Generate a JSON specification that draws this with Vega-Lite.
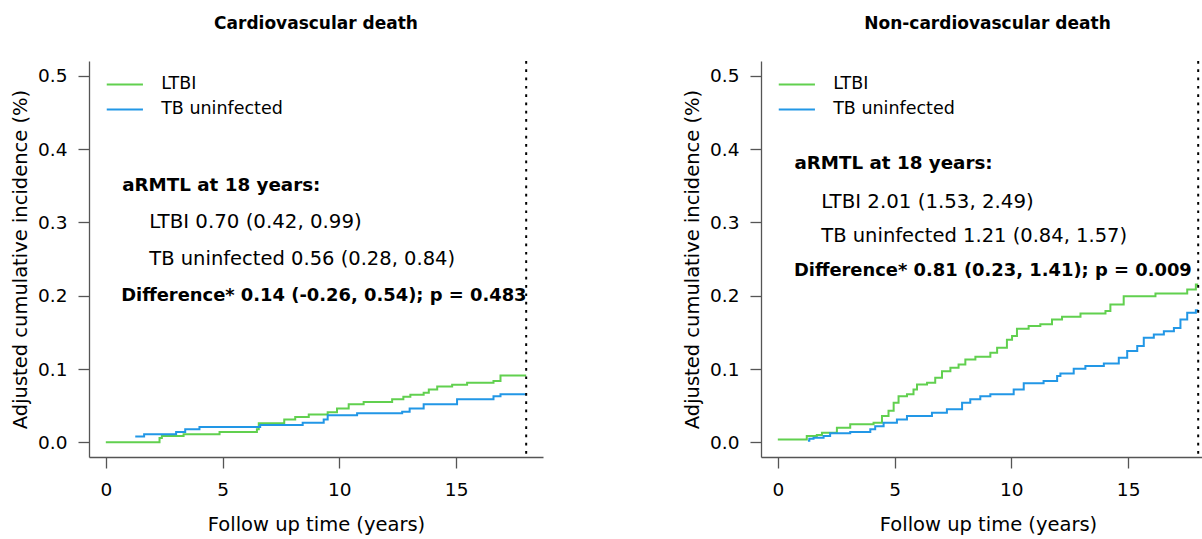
{
  "$schema": "https://vega.github.io/schema/vega-lite/v6.json",
  "autosize": {"type": "pad"},
  "padding": {"left": 10, "top": 15, "right": 0, "bottom": 3},
  "background": "white",
  "spacing": 218,
  "bounds": "flush",
  "config": {
    "font": "DejaVu Sans",
    "view": {"stroke": null},
    "axis": {
      "domainColor": "#555555", "tickColor": "#555555", "domainWidth": 1.3, "tickWidth": 1.3,
      "labelColor": "black", "titleColor": "black",
      "labelFont": "DejaVu Sans", "titleFont": "DejaVu Sans",
      "labelFontSize": 18.5, "titleFontSize": 19.5, "titleFontWeight": "normal",
      "tickSize": 11, "grid": false
    },
    "title": {"font": "DejaVu Sans", "fontSize": 17, "fontWeight": "bold", "anchor": "middle", "baseline": "alphabetic", "offset": 27, "color": "black"}
  },
  "datasets": {
    "cv": [
      {"time": 0, "inc": 0.0, "group": "LTBI"},
      {"time": 2.30, "inc": 0.006, "group": "LTBI"},
      {"time": 2.40, "inc": 0.0086, "group": "LTBI"},
      {"time": 3.33, "inc": 0.011, "group": "LTBI"},
      {"time": 4.87, "inc": 0.014, "group": "LTBI"},
      {"time": 6.47, "inc": 0.018, "group": "LTBI"},
      {"time": 6.55, "inc": 0.026, "group": "LTBI"},
      {"time": 7.64, "inc": 0.031, "group": "LTBI"},
      {"time": 8.11, "inc": 0.0345, "group": "LTBI"},
      {"time": 8.69, "inc": 0.038, "group": "LTBI"},
      {"time": 9.50, "inc": 0.041, "group": "LTBI"},
      {"time": 9.90, "inc": 0.046, "group": "LTBI"},
      {"time": 10.40, "inc": 0.052, "group": "LTBI"},
      {"time": 11.04, "inc": 0.055, "group": "LTBI"},
      {"time": 12.26, "inc": 0.0586, "group": "LTBI"},
      {"time": 12.74, "inc": 0.062, "group": "LTBI"},
      {"time": 13.04, "inc": 0.065, "group": "LTBI"},
      {"time": 13.61, "inc": 0.0677, "group": "LTBI"},
      {"time": 13.83, "inc": 0.072, "group": "LTBI"},
      {"time": 14.19, "inc": 0.076, "group": "LTBI"},
      {"time": 14.83, "inc": 0.0786, "group": "LTBI"},
      {"time": 15.47, "inc": 0.0813, "group": "LTBI"},
      {"time": 16.60, "inc": 0.0835, "group": "LTBI"},
      {"time": 16.90, "inc": 0.091, "group": "LTBI"},
      {"time": 18.0, "inc": 0.091, "group": "LTBI"},
      {"time": 1.26, "inc": 0.0078, "group": "TB uninfected"},
      {"time": 1.64, "inc": 0.011, "group": "TB uninfected"},
      {"time": 3.01, "inc": 0.014, "group": "TB uninfected"},
      {"time": 3.40, "inc": 0.0177, "group": "TB uninfected"},
      {"time": 4.01, "inc": 0.021, "group": "TB uninfected"},
      {"time": 6.61, "inc": 0.0236, "group": "TB uninfected"},
      {"time": 8.43, "inc": 0.0268, "group": "TB uninfected"},
      {"time": 9.33, "inc": 0.031, "group": "TB uninfected"},
      {"time": 9.50, "inc": 0.037, "group": "TB uninfected"},
      {"time": 10.76, "inc": 0.0395, "group": "TB uninfected"},
      {"time": 12.69, "inc": 0.0418, "group": "TB uninfected"},
      {"time": 13.01, "inc": 0.046, "group": "TB uninfected"},
      {"time": 13.61, "inc": 0.0518, "group": "TB uninfected"},
      {"time": 15.04, "inc": 0.0586, "group": "TB uninfected"},
      {"time": 16.60, "inc": 0.063, "group": "TB uninfected"},
      {"time": 16.90, "inc": 0.0654, "group": "TB uninfected"},
      {"time": 18.0, "inc": 0.0654, "group": "TB uninfected"}
    ],
    "ncv": [
      {"time": 0, "inc": 0.004, "group": "LTBI"},
      {"time": 1.24, "inc": 0.0086, "group": "LTBI"},
      {"time": 1.67, "inc": 0.010, "group": "LTBI"},
      {"time": 1.89, "inc": 0.0132, "group": "LTBI"},
      {"time": 2.53, "inc": 0.020, "group": "LTBI"},
      {"time": 3.10, "inc": 0.0245, "group": "LTBI"},
      {"time": 4.10, "inc": 0.0268, "group": "LTBI"},
      {"time": 4.46, "inc": 0.036, "group": "LTBI"},
      {"time": 4.74, "inc": 0.043, "group": "LTBI"},
      {"time": 4.96, "inc": 0.054, "group": "LTBI"},
      {"time": 5.17, "inc": 0.063, "group": "LTBI"},
      {"time": 5.53, "inc": 0.0654, "group": "LTBI"},
      {"time": 5.81, "inc": 0.072, "group": "LTBI"},
      {"time": 5.96, "inc": 0.079, "group": "LTBI"},
      {"time": 6.39, "inc": 0.0813, "group": "LTBI"},
      {"time": 6.74, "inc": 0.088, "group": "LTBI"},
      {"time": 7.03, "inc": 0.097, "group": "LTBI"},
      {"time": 7.39, "inc": 0.1017, "group": "LTBI"},
      {"time": 7.74, "inc": 0.106, "group": "LTBI"},
      {"time": 8.03, "inc": 0.113, "group": "LTBI"},
      {"time": 8.46, "inc": 0.1167, "group": "LTBI"},
      {"time": 9.10, "inc": 0.122, "group": "LTBI"},
      {"time": 9.39, "inc": 0.129, "group": "LTBI"},
      {"time": 9.81, "inc": 0.140, "group": "LTBI"},
      {"time": 10.03, "inc": 0.145, "group": "LTBI"},
      {"time": 10.24, "inc": 0.155, "group": "LTBI"},
      {"time": 10.74, "inc": 0.1585, "group": "LTBI"},
      {"time": 11.24, "inc": 0.161, "group": "LTBI"},
      {"time": 11.74, "inc": 0.1676, "group": "LTBI"},
      {"time": 12.17, "inc": 0.1712, "group": "LTBI"},
      {"time": 12.96, "inc": 0.1757, "group": "LTBI"},
      {"time": 14.03, "inc": 0.179, "group": "LTBI"},
      {"time": 14.24, "inc": 0.188, "group": "LTBI"},
      {"time": 14.81, "inc": 0.1993, "group": "LTBI"},
      {"time": 16.17, "inc": 0.203, "group": "LTBI"},
      {"time": 17.53, "inc": 0.2084, "group": "LTBI"},
      {"time": 17.90, "inc": 0.2153, "group": "LTBI"},
      {"time": 18.0, "inc": 0.2153, "group": "LTBI"},
      {"time": 1.29, "inc": 0.002, "group": "TB uninfected"},
      {"time": 1.35, "inc": 0.005, "group": "TB uninfected"},
      {"time": 1.53, "inc": 0.0064, "group": "TB uninfected"},
      {"time": 1.96, "inc": 0.0086, "group": "TB uninfected"},
      {"time": 2.24, "inc": 0.0123, "group": "TB uninfected"},
      {"time": 3.10, "inc": 0.014, "group": "TB uninfected"},
      {"time": 3.96, "inc": 0.0177, "group": "TB uninfected"},
      {"time": 4.17, "inc": 0.022, "group": "TB uninfected"},
      {"time": 4.53, "inc": 0.0268, "group": "TB uninfected"},
      {"time": 5.10, "inc": 0.031, "group": "TB uninfected"},
      {"time": 5.53, "inc": 0.0359, "group": "TB uninfected"},
      {"time": 6.60, "inc": 0.0405, "group": "TB uninfected"},
      {"time": 7.24, "inc": 0.045, "group": "TB uninfected"},
      {"time": 7.89, "inc": 0.054, "group": "TB uninfected"},
      {"time": 8.24, "inc": 0.0586, "group": "TB uninfected"},
      {"time": 8.67, "inc": 0.063, "group": "TB uninfected"},
      {"time": 9.10, "inc": 0.0654, "group": "TB uninfected"},
      {"time": 10.10, "inc": 0.072, "group": "TB uninfected"},
      {"time": 10.53, "inc": 0.0804, "group": "TB uninfected"},
      {"time": 11.38, "inc": 0.0835, "group": "TB uninfected"},
      {"time": 11.96, "inc": 0.0903, "group": "TB uninfected"},
      {"time": 12.10, "inc": 0.094, "group": "TB uninfected"},
      {"time": 12.67, "inc": 0.1004, "group": "TB uninfected"},
      {"time": 13.17, "inc": 0.104, "group": "TB uninfected"},
      {"time": 13.96, "inc": 0.1076, "group": "TB uninfected"},
      {"time": 14.60, "inc": 0.1154, "group": "TB uninfected"},
      {"time": 14.96, "inc": 0.1244, "group": "TB uninfected"},
      {"time": 15.39, "inc": 0.1312, "group": "TB uninfected"},
      {"time": 15.67, "inc": 0.1426, "group": "TB uninfected"},
      {"time": 16.10, "inc": 0.147, "group": "TB uninfected"},
      {"time": 16.53, "inc": 0.1516, "group": "TB uninfected"},
      {"time": 16.96, "inc": 0.156, "group": "TB uninfected"},
      {"time": 17.24, "inc": 0.1676, "group": "TB uninfected"},
      {"time": 17.53, "inc": 0.1767, "group": "TB uninfected"},
      {"time": 17.90, "inc": 0.180, "group": "TB uninfected"},
      {"time": 18.0, "inc": 0.180, "group": "TB uninfected"}
    ],
    "one": [{}]
  },
  "hconcat": [
    {
      "width": 454,
      "height": 396,
      "title": {"text": "Cardiovascular death"},
      "layer": [
        {
          "data": {"name": "cv"},
          "mark": {"type": "line", "interpolate": "step-after", "strokeWidth": 2},
          "encoding": {
            "x": {"field": "time", "type": "quantitative", "scale": {"domain": [-0.72, 18.72], "nice": false, "zero": false},
                  "axis": {"values": [0, 5, 10, 15], "title": "Follow up time (years)", "labelPadding": 12, "titlePadding": 17}},
            "y": {"field": "inc", "type": "quantitative", "scale": {"domain": [-0.02, 0.52], "nice": false, "zero": false},
                  "axis": {"values": [0, 0.1, 0.2, 0.3, 0.4, 0.5], "format": ".1f", "title": "Adjusted cumulative incidence (%)", "labelPadding": 11, "titlePadding": 7}},
            "color": {"field": "group", "type": "nominal", "scale": {"domain": ["LTBI", "TB uninfected"], "range": ["#61D04F", "#2297E6"]}, "legend": null}
          }
        },
        {"data": {"name": "one"}, "mark": {"type": "rule", "strokeDash": [2.7, 5.6], "strokeWidth": 2, "color": "black"}, "encoding": {"x": {"datum": 18}}},
        {"data": {"name": "one"}, "mark": {"type": "rule", "strokeWidth": 2, "color": "#61D04F"}, "encoding": {"x": {"datum": 0.04}, "x2": {"datum": 1.59}, "y": {"datum": 0.488}}},
        {"data": {"name": "one"}, "mark": {"type": "rule", "strokeWidth": 2, "color": "#2297E6"}, "encoding": {"x": {"datum": 0.04}, "x2": {"datum": 1.59}, "y": {"datum": 0.454}}},
        {"data": {"name": "one"}, "mark": {"type": "text", "text": "LTBI", "align": "left", "baseline": "middle", "fontSize": 17.5, "color": "black"}, "encoding": {"x": {"datum": 2.37}, "y": {"datum": 0.488}}},
        {"data": {"name": "one"}, "mark": {"type": "text", "text": "TB uninfected", "align": "left", "baseline": "middle", "fontSize": 17.5, "color": "black"}, "encoding": {"x": {"datum": 2.37}, "y": {"datum": 0.454}}},
        {"data": {"name": "one"}, "mark": {"type": "text", "text": "aRMTL at 18 years:", "align": "left", "baseline": "middle", "fontSize": 18.3, "fontWeight": "bold", "color": "black"}, "encoding": {"x": {"datum": 0.70}, "y": {"datum": 0.35}}},
        {"data": {"name": "one"}, "mark": {"type": "text", "text": "LTBI 0.70 (0.42, 0.99)", "align": "left", "baseline": "middle", "fontSize": 19.8, "color": "black"}, "encoding": {"x": {"datum": 1.86}, "y": {"datum": 0.30}}},
        {"data": {"name": "one"}, "mark": {"type": "text", "text": "TB uninfected 0.56 (0.28, 0.84)", "align": "left", "baseline": "middle", "fontSize": 19.5, "color": "black"}, "encoding": {"x": {"datum": 1.86}, "y": {"datum": 0.25}}},
        {"data": {"name": "one"}, "mark": {"type": "text", "text": "Difference* 0.14 (-0.26, 0.54); p = 0.483", "align": "left", "baseline": "middle", "fontSize": 17.9, "fontWeight": "bold", "color": "black"}, "encoding": {"x": {"datum": 0.66}, "y": {"datum": 0.20}}}
      ]
    },
    {
      "width": 441,
      "height": 396,
      "title": {"text": "Non-cardiovascular death", "dx": 6},
      "layer": [
        {
          "data": {"name": "ncv"},
          "mark": {"type": "line", "interpolate": "step-after", "strokeWidth": 2},
          "encoding": {
            "x": {"field": "time", "type": "quantitative", "scale": {"domain": [-0.72, 18.163], "nice": false, "zero": false},
                  "axis": {"values": [0, 5, 10, 15], "title": "Follow up time (years)", "labelPadding": 12, "titlePadding": 17, "titleX": 227}},
            "y": {"field": "inc", "type": "quantitative", "scale": {"domain": [-0.02, 0.52], "nice": false, "zero": false},
                  "axis": {"values": [0, 0.1, 0.2, 0.3, 0.4, 0.5], "format": ".1f", "title": "Adjusted cumulative incidence (%)", "labelPadding": 11, "titlePadding": 7}},
            "color": {"field": "group", "type": "nominal", "scale": {"domain": ["LTBI", "TB uninfected"], "range": ["#61D04F", "#2297E6"]}, "legend": null}
          }
        },
        {"data": {"name": "one"}, "mark": {"type": "rule", "strokeDash": [2.7, 5.6], "strokeWidth": 2, "color": "black"}, "encoding": {"x": {"datum": 18}}},
        {"data": {"name": "one"}, "mark": {"type": "rule", "strokeWidth": 2, "color": "#61D04F"}, "encoding": {"x": {"datum": 0.04}, "x2": {"datum": 1.59}, "y": {"datum": 0.488}}},
        {"data": {"name": "one"}, "mark": {"type": "rule", "strokeWidth": 2, "color": "#2297E6"}, "encoding": {"x": {"datum": 0.04}, "x2": {"datum": 1.59}, "y": {"datum": 0.454}}},
        {"data": {"name": "one"}, "mark": {"type": "text", "text": "LTBI", "align": "left", "baseline": "middle", "fontSize": 17.5, "color": "black"}, "encoding": {"x": {"datum": 2.37}, "y": {"datum": 0.488}}},
        {"data": {"name": "one"}, "mark": {"type": "text", "text": "TB uninfected", "align": "left", "baseline": "middle", "fontSize": 17.5, "color": "black"}, "encoding": {"x": {"datum": 2.37}, "y": {"datum": 0.454}}},
        {"data": {"name": "one"}, "mark": {"type": "text", "text": "aRMTL at 18 years:", "align": "left", "baseline": "middle", "fontSize": 18.3, "fontWeight": "bold", "color": "black"}, "encoding": {"x": {"datum": 0.71}, "y": {"datum": 0.379}}},
        {"data": {"name": "one"}, "mark": {"type": "text", "text": "LTBI 2.01 (1.53, 2.49)", "align": "left", "baseline": "middle", "fontSize": 19.8, "color": "black"}, "encoding": {"x": {"datum": 1.86}, "y": {"datum": 0.328}}},
        {"data": {"name": "one"}, "mark": {"type": "text", "text": "TB uninfected 1.21 (0.84, 1.57)", "align": "left", "baseline": "middle", "fontSize": 19.5, "color": "black"}, "encoding": {"x": {"datum": 1.86}, "y": {"datum": 0.281}}},
        {"data": {"name": "one"}, "mark": {"type": "text", "text": "Difference* 0.81 (0.23, 1.41); p = 0.009", "align": "left", "baseline": "middle", "fontSize": 17.9, "fontWeight": "bold", "color": "black"}, "encoding": {"x": {"datum": 0.69}, "y": {"datum": 0.233}}}
      ]
    }
  ]
}
